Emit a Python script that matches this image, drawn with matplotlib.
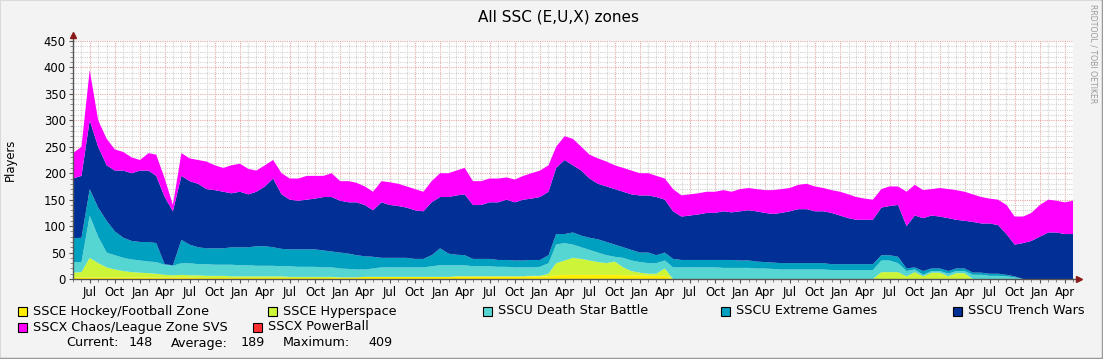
import matplotlib
matplotlib.use("Agg")
import matplotlib.pyplot as plt
import matplotlib.dates as mdates
from matplotlib.patches import Rectangle
from matplotlib.lines import Line2D
import pandas as pd

# Monthly samples over the ten year window shown in the graph.
months = pd.date_range("2006-05-01", "2016-05-01", freq="MS")

# Players per zone (bottom to top).
hockey = [3, 3, 3, 3, 3, 3, 3, 3, 3, 3, 3, 3, 3, 3, 3, 2, 2, 2, 2, 2,
          2, 2, 2, 2, 2, 2, 2, 2, 2, 2, 2, 2, 3, 3, 3, 4, 4, 4, 4, 4,
          4, 4, 4, 4, 4, 4, 5, 5, 5, 5, 5, 5, 5, 5, 5, 5, 5, 5, 7, 8,
          8, 8, 8, 8, 8, 8, 7, 7, 7, 6, 6, 6, 0, 0, 0, 0, 0, 0, 0, 0,
          0, 0, 0, 0, 0, 0, 0, 0, 0, 0, 0, 0, 0, 0, 0, 0, 0, 0, 0, 0,
          0, 0, 0, 0, 0, 0, 0, 0, 0, 0, 0, 0, 0, 0, 0, 0, 0, 0, 0, 0, 0]
hyperspace = [9, 10, 37, 27, 19, 15, 12, 10, 9, 8, 7, 5, 4, 5, 4, 5, 4, 4, 4, 3,
              3, 3, 3, 3, 3, 3, 2, 2, 2, 2, 2, 2, 0, 0, 0, 0, 0, 0, 0, 0,
              0, 0, 0, 0, 0, 0, 0, 0, 0, 0, 0, 0, 0, 0, 0, 1, 1, 5, 23, 27,
              32, 30, 27, 24, 22, 25, 15, 8, 5, 4, 4, 14, 0, 0, 0, 0, 0, 0, 0, 0,
              0, 0, 0, 0, 0, 0, 0, 0, 0, 0, 0, 0, 0, 0, 0, 0, 0, 13, 13, 13,
              5, 13, 5, 12, 12, 5, 11, 11, 0, 0, 0, 0, 0, 0, 0, 0, 0, 0, 0, 0, 0]
death_star = [20, 19, 80, 50, 28, 27, 25, 24, 23, 22, 22, 19, 18, 22, 23, 21, 22, 21, 21, 22,
              21, 21, 20, 20, 20, 19, 20, 19, 19, 19, 18, 18, 17, 16, 15, 14, 16, 18, 18, 18,
              18, 18, 18, 20, 22, 22, 21, 21, 19, 19, 19, 18, 18, 17, 17, 16, 17, 20, 35, 33,
              25, 22, 20, 18, 15, 9, 18, 20, 20, 20, 20, 15, 22, 22, 22, 22, 22, 22, 21, 21,
              21, 21, 20, 20, 19, 18, 18, 18, 18, 18, 18, 17, 17, 17, 17, 17, 17, 22, 22, 17,
              10, 5, 3, 3, 3, 5, 4, 4, 8, 8, 6, 6, 5, 3, 0, 0, 0, 0, 0, 0, 0]
extreme = [45, 46, 50, 55, 60, 45, 38, 35, 35, 37, 36, 1, 1, 44, 35, 32, 30, 31, 31, 33,
           34, 34, 37, 37, 35, 33, 32, 33, 33, 33, 32, 30, 30, 29, 27, 25, 22, 18, 18, 18,
           18, 16, 16, 21, 32, 22, 20, 19, 14, 14, 14, 13, 13, 13, 13, 14, 13, 15, 20, 17,
           23, 22, 23, 25, 25, 23, 20, 20, 18, 20, 15, 15, 16, 14, 14, 14, 14, 14, 15, 15,
           14, 14, 13, 12, 12, 12, 12, 12, 12, 12, 12, 11, 11, 11, 11, 11, 11, 10, 10, 12,
           5, 4, 7, 5, 5, 5, 5, 5, 4, 4, 4, 4, 3, 2, 0, 0, 0, 0, 0, 0, 0]
trench_wars = [113, 117, 130, 115, 105, 115, 127, 128, 135, 135, 127, 127, 102, 121, 120, 120, 112, 110, 107, 102,
               105, 100, 103, 113, 130, 103, 94, 92, 94, 96, 101, 103, 98, 97, 100, 97, 88, 105, 100, 98,
               95, 92, 90, 100, 97, 107, 112, 115, 102, 102, 107, 109, 114, 110, 115, 116, 119, 120, 125, 140,
               127, 123, 112, 105, 105, 105, 105, 105, 108, 108, 110, 100, 90, 82, 84, 86, 89, 89, 92, 90,
               93, 95, 95, 93, 92, 95, 98, 102, 102, 98, 98, 97, 92, 87, 84, 84, 84, 90, 93, 98,
               80, 98, 100, 100, 98, 100, 92, 90, 96, 93, 95, 92, 77, 60, 68, 72, 80, 88, 88, 85, 85]
chaos = [48, 55, 95, 50, 50, 40, 35, 30, 20, 33, 40, 35, 12, 43, 43, 45, 52, 47, 45, 53,
         53, 48, 40, 40, 35, 40, 40, 42, 45, 43, 40, 45, 37, 40, 37, 35, 35, 40, 43, 42,
         40, 40, 37, 40, 45, 45, 47, 50, 45, 45, 45, 45, 42, 43, 45, 48, 50, 50, 40, 45,
         50, 45, 45, 48, 47, 45, 45, 45, 42, 42, 40, 40, 42, 40, 40, 40, 40, 40, 40, 39,
         42, 42, 42, 43, 45, 45, 44, 46, 48, 47, 44, 43, 45, 45, 43, 40, 38, 35, 37, 35,
         65, 58, 53, 50, 54, 55, 56, 55, 52, 50, 47, 48, 55, 53, 50, 53, 60, 62, 60, 60, 63]
powerball = [0] * len(months)

zones = ["SSCE Hockey/Football Zone", "SSCE Hyperspace", "SSCU Death Star Battle",
         "SSCU Extreme Games", "SSCU Trench Wars", "SSCX Chaos/League Zone SVS",
         "SSCX PowerBall"]
colors = ["#FFEE00", "#CCF53A", "#55D6D3", "#00A0C0", "#002F95", "#FF00FF", "#FF3030"]

current, average, maximum = 148, 189, 409

bg = "#F3F3F3"
fig = plt.figure(figsize=(11.03, 3.59), dpi=100, facecolor=bg)
W, H = 1103.0, 359.0

# Plot area, placed in pixels like rrdtool does.
ax = fig.add_axes([73 / W, 80 / H, 1000 / W, 238 / H])
ax.set_facecolor("white")

ax.stackplot(months, hockey, hyperspace, death_star, extreme, trench_wars, chaos,
             powerball, colors=colors, linewidth=0, zorder=2)

ax.set_xlim(months[0], months[-1])
ax.set_ylim(0, 450)

# Grid: grey dotted minor lines, red dotted major lines.
ax.xaxis.set_major_locator(mdates.MonthLocator(bymonth=[1, 4, 7, 10]))
ax.xaxis.set_minor_locator(mdates.MonthLocator())
ax.xaxis.set_major_formatter(mdates.DateFormatter("%b"))
ax.set_yticks(range(0, 451, 50))
ax.set_yticks(range(0, 451, 10), minor=True)
ax.grid(which="minor", color="#D2D2D2", linestyle=(0, (1, 1)), linewidth=0.8, zorder=1)
ax.grid(which="major", color="#E9A9A9", linestyle=(0, (1, 1)), linewidth=0.8, zorder=1)
ax.set_axisbelow(True)

for s in ["top", "right"]:
    ax.spines[s].set_visible(False)
for s in ["left", "bottom"]:
    ax.spines[s].set_color("#555555")
    ax.spines[s].set_linewidth(1)
ax.tick_params(which="major", length=3, width=0.8, color="#555555", labelsize=8.4, pad=2)
ax.tick_params(which="minor", length=2, width=0.6, color="#777777")

# Axis arrows.
ax.plot([0, 0], [1, 1.025], color="#555555", lw=1, transform=ax.transAxes, clip_on=False)
ax.plot([1, 1.006], [0, 0], color="#555555", lw=1, transform=ax.transAxes, clip_on=False)
ax.plot(0, 1.025, marker="^", ms=4, color="#8B1A1A", transform=ax.transAxes, clip_on=False)
ax.plot(1.006, 0, marker=">", ms=4, color="#8B1A1A", transform=ax.transAxes, clip_on=False)

fig.text(10 / W, 1 - 160 / H, "Players", fontsize=8.4, rotation=90, ha="center", va="center")

fig.text(559 / W, 1 - 17 / H, "All SSC (E,U,X) zones", fontsize=11,
         ha="center", va="center")
fig.text(1093 / W, 1 - 4 / H, "RRDTOOL / TOBI OETIKER", fontsize=5.6, color="#9A9A9A",
         rotation=270, ha="center", va="top")

# Legend in rrdtool style.
fs = 9.2
leg_pos = [(18, 311), (268, 311), (483, 311), (721, 311), (953, 311),
           (18, 327), (253, 327)]
for (px, py), name, c in zip(leg_pos, zones, colors):
    fig.add_artist(Rectangle((px / W, 1 - (py + 4.5) / H), 9 / W, 9 / H,
                             transform=fig.transFigure, facecolor=c,
                             edgecolor="black", linewidth=0.8))
    fig.text((px + 15) / W, 1 - py / H, name, fontsize=fs, ha="left", va="center")

row = 1 - 343 / H
fig.text(66 / W, row, "Current:", fontsize=fs, va="center")
fig.text(153 / W, row, str(current), fontsize=fs, va="center", ha="right")
fig.text(171 / W, row, "Average:", fontsize=fs, va="center")
fig.text(265 / W, row, str(average), fontsize=fs, va="center", ha="right")
fig.text(283 / W, row, "Maximum:", fontsize=fs, va="center")
fig.text(393 / W, row, str(maximum), fontsize=fs, va="center", ha="right")

# Frame around the image.
fig.add_artist(Line2D([0, 1], [1, 1], color="#DADADA", lw=1.5, transform=fig.transFigure))
fig.add_artist(Line2D([0, 0], [0, 1], color="#DADADA", lw=1.5, transform=fig.transFigure))
fig.add_artist(Line2D([0, 1], [0, 0], color="#9A9A9A", lw=2.5, transform=fig.transFigure))
fig.add_artist(Line2D([1, 1], [0, 1], color="#9A9A9A", lw=2.5, transform=fig.transFigure))

fig.savefig("out.png", dpi=100, facecolor=bg)
